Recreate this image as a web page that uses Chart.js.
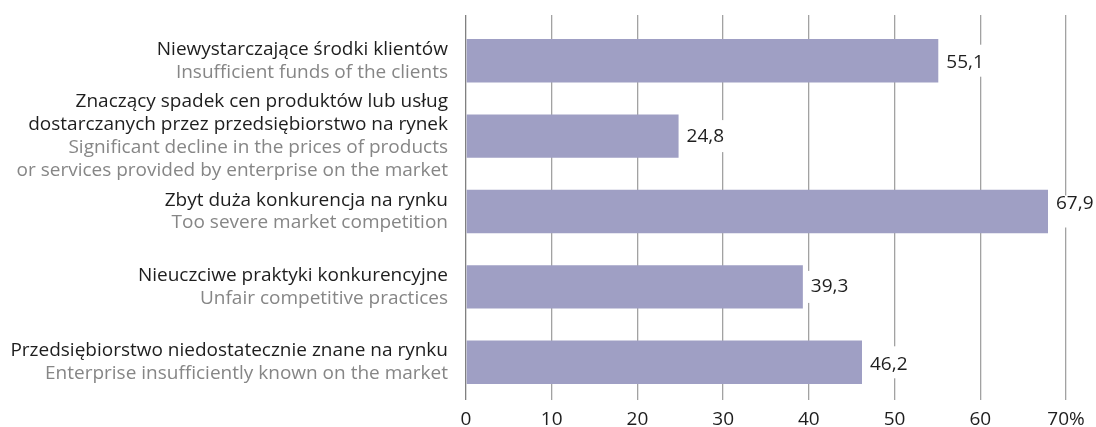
<!DOCTYPE html>
<html><head><meta charset="utf-8">
<script src="https://cdn.jsdelivr.net/npm/chart.js@4/dist/chart.umd.min.js"></script>
<style>html,body{margin:0;padding:0;background:#fff}</style>
</head><body>
<canvas id="c" width="1096" height="427"></canvas>
<script>
// ---- data ----
const categoriesPL = [
  ["Niewystarczające środki klientów"],
  ["Znaczący spadek cen produktów lub usług", "dostarczanych przez przedsiębiorstwo na rynek"],
  ["Zbyt duża konkurencja na rynku"],
  ["Nieuczciwe praktyki konkurencyjne"],
  ["Przedsiębiorstwo niedostatecznie znane na rynku"]
];
const categoriesEN = [
  ["Insufficient funds of the clients"],
  ["Significant decline in the prices of products", "or services provided by enterprise on the market"],
  ["Too severe market competition"],
  ["Unfair competitive practices"],
  ["Enterprise insufficiently known on the market"]
];
const values = [55.1, 24.8, 67.9, 39.3, 46.2];
const xTickLabels = ["0", "10", "20", "30", "40", "50", "60", "70%"];

// ---- style ----
const FONT = "'Open Sans', 'Noto Sans', sans-serif";
const BAR_COLOR = "#9f9fc4";
const GRID_COLOR = "#a2a2a2";
const ZERO_COLOR = "#808080";
const valueDy = [2, 0, -8, 0, 2];

const leftLabels = {
  id: 'leftLabels',
  afterDraw(chart) {
    const ctx = chart.ctx, ys = chart.scales.y;
    ctx.save();
    ctx.textAlign = 'right';
    ctx.textBaseline = 'middle';
    ctx.font = "19px " + FONT;
    const lh = 22.8;
    categoriesPL.forEach((pl, i) => {
      const en = categoriesEN[i];
      const lines = pl.map(t => [t, '#1e1e1e']).concat(en.map(t => [t, '#868686']));
      const cy = ys.getPixelForValue(i);
      let y = cy - (lines.length - 1) * lh / 2;
      lines.forEach(([t, c]) => {
        ctx.fillStyle = c;
        ctx.fillText(t, 448, y);
        y += lh;
      });
    });
    ctx.restore();
  }
};

const valueLabels = {
  id: 'valueLabels',
  afterDatasetsDraw(chart) {
    const ctx = chart.ctx;
    const meta = chart.getDatasetMeta(0);
    ctx.save();
    ctx.font = "19px " + FONT;
    ctx.textAlign = 'left';
    ctx.textBaseline = 'middle';
    meta.data.forEach((bar, i) => {
      const txt = values[i].toFixed(1).replace('.', ',');
      const w = ctx.measureText(txt).width;
      const x = bar.x + 8;
      ctx.fillStyle = '#fff';
      ctx.fillRect(x - 3, bar.y - 16, w + 6, 32);
      ctx.fillStyle = '#1e1e1e';
      ctx.fillText(txt, x, bar.y + valueDy[i]);
    });
    ctx.restore();
  }
};

new Chart(document.getElementById('c'), {
  type: 'bar',
  data: {
    labels: categoriesPL.map(l => l[0]),
    datasets: [{
      data: values,
      backgroundColor: BAR_COLOR,
      borderWidth: 0,
      barPercentage: 0.575,
      categoryPercentage: 1,
      xAxisID: 'x',
      yAxisID: 'y'
    }]
  },
  options: {
    indexAxis: 'y',
    responsive: false,
    animation: false,
    devicePixelRatio: 1,
    layout: { padding: { left: 466, right: 30, top: 15, bottom: 0 } },
    plugins: { legend: { display: false }, tooltip: { enabled: false } },
    scales: {
      y: { display: false },
      x: {
        type: 'linear', position: 'bottom', min: 0, max: 70,
        border: { display: false },
        afterFit: s => { s.height = 27; },
        grid: {
          color: c => (c.tick && c.tick.value === 0) ? ZERO_COLOR : GRID_COLOR,
          lineWidth: 1.3, drawTicks: false
        },
        ticks: {
          stepSize: 10, padding: 10, color: '#1e1e1e',
          font: { family: FONT, size: 19, lineHeight: 1.0 },
          callback: (v, idx) => xTickLabels[idx]
        }
      },
      x2: {
        type: 'linear', position: 'top', min: 0, max: 70,
        border: { display: false },
        afterFit: s => { s.height = 8; },
        grid: {
          color: c => (c.tick && c.tick.value === 0) ? ZERO_COLOR : GRID_COLOR,
          lineWidth: 1.3, drawOnChartArea: false, drawTicks: true, tickLength: 8
        },
        ticks: { display: false, stepSize: 10 }
      }
    }
  },
  plugins: [leftLabels, valueLabels]
});
</script>
</body></html>
